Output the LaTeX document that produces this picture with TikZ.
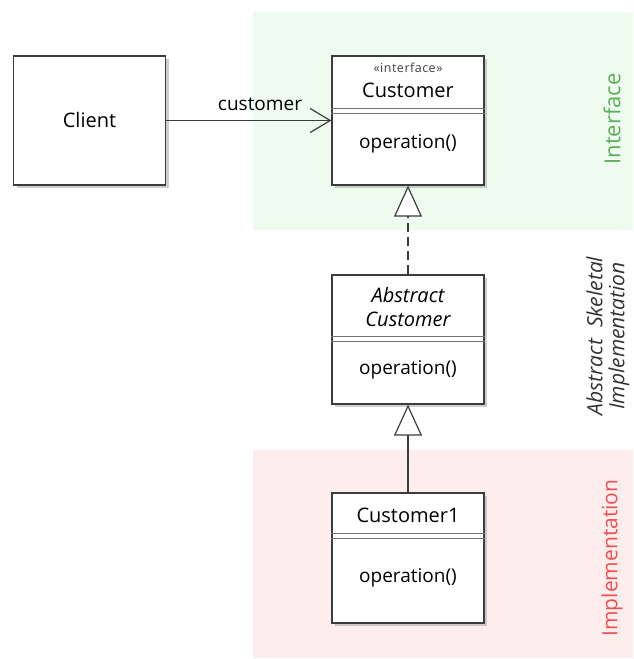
\documentclass[tikz,border=0pt]{standalone}
\usepackage{fontspec}
\setmainfont{Open Sans}
\usetikzlibrary{arrows.meta,shadows}
\definecolor{greenbg}{RGB}{238,251,238}
\definecolor{pinkbg}{RGB}{253,237,237}
\definecolor{greentxt}{RGB}{90,175,90}
\definecolor{redtxt}{RGB}{240,80,80}
\definecolor{boxline}{RGB}{60,60,60}
\begin{document}
\begin{tikzpicture}[x=1pt,y=1pt,
  umlbox/.style={draw=boxline,line width=1.3pt,fill=white,minimum width=152pt,minimum height=129pt,inner sep=0pt,
    drop shadow={shadow xshift=3pt,shadow yshift=-3pt,fill=black!35,opacity=.55}},
  txt/.style={font=\fontsize{19}{22}\selectfont,inner sep=0pt},
  small/.style={font=\fontsize{12.5}{14}\selectfont\addfontfeatures{LetterSpace=4},inner sep=0pt,text=black!75},
  sep/.style={draw=black!55,line width=0.9pt},
  side/.style={font=\fontsize{21}{24}\selectfont,rotate=90,inner sep=0pt,align=center},
  assoc/.style={draw=boxline,line width=1.2pt,-{Straight Barb[length=20pt,width=24pt,line width=1.2pt]}},
  gen/.style={draw=boxline,line width=1.2pt,-{Triangle[open,length=31pt,width=28pt,line width=1.2pt,fill=white]}},
  real/.style={gen,dash pattern=on 9pt off 5pt}]
\useasboundingbox (0,0) rectangle (633,659);
% regions
\fill[greenbg] (253,429) rectangle (633,647);
\fill[pinkbg] (253,1) rectangle (633,209);
\node[side,text=greentxt,font=\fontsize{22}{24}\selectfont] (lblI) at (612,540) {Interface};
\node[side,text=black!80,font=\fontsize{21}{22}\selectfont\itshape] (lblA) at (608,323) {Abstract\ \ Skeletal\\Implementation};
\node[side,text=redtxt] (lblM) at (612,101) {Implementation};
% boxes
\node[umlbox] (client) at (89.5,538.5) {};
\node[txt,font=\fontsize{20}{24}\selectfont] (clientT) at (client.center) {Client};
\node[umlbox] (cust) at (408,538.5) {};
\node[umlbox] (abst) at (408,319.5) {};
\node[umlbox,minimum height=130pt] (cust1) at (408,101) {};
% Customer interface
\node[small] (stereo) at (408,591) {«interface»};
\node[txt,font=\fontsize{20}{24}\selectfont] (custT) at (408,569) {Customer};
\draw[sep] (cust.west |- 0,551) -- (cust.east |- 0,551);
\draw[sep] (cust.west |- 0,545.5) -- (cust.east |- 0,545.5);
\node[txt] (custOp) at (408,515) {operation()};
% Abstract
\node[txt,font=\fontsize{20}{24}\selectfont\itshape,align=center] (abstT) at (408,352) {Abstract\\Customer};
\draw[sep] (abst.west |- 0,323) -- (abst.east |- 0,323);
\draw[sep] (abst.west |- 0,317.5) -- (abst.east |- 0,317.5);
\node[txt] (abstOp) at (408,289) {operation()};
% Customer1
\node[txt,font=\fontsize{20}{24}\selectfont] (cust1T) at (408,144) {Customer1};
\draw[sep] (cust1.west |- 0,126) -- (cust1.east |- 0,126);
\draw[sep] (cust1.west |- 0,120.5) -- (cust1.east |- 0,120.5);
\node[txt] (cust1Op) at (408,81) {operation()};
% connectors
\draw[assoc] (client.east) -- (cust.west);
\node[txt] (assocL) at (260,555) {customer};
\draw[real] (abst.north) -- (cust.south);
\draw[gen] (cust1.north) -- (abst.south);
\end{tikzpicture}
\end{document}
